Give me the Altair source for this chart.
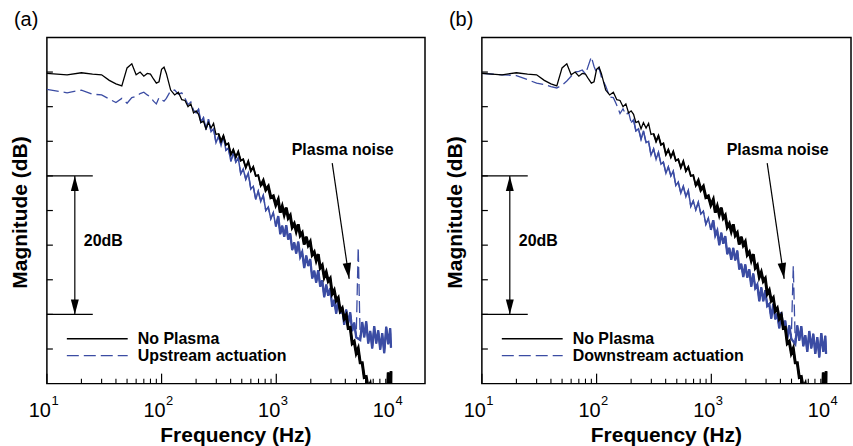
import altair as alt
import pandas as pd

FONT = "Liberation Sans"
BLUE = "#3b4ca3"

# ---------------- data (frequency in Hz, magnitude in dB) ----------------
FREQ_LOW = [10, 15, 20, 25, 30, 35, 40, 45, 50, 55, 60, 65, 70, 75, 80, 85, 90, 95, 100,
            105, 110, 120, 130, 140, 150, 160, 170, 180, 190, 200]
FREQ_MID = [210, 220, 232, 244, 256, 270, 284, 298, 314, 330, 346, 364, 382, 402, 422, 444,
            466, 490, 515, 542, 570, 600, 630, 662, 696, 732, 770, 810, 852, 896, 942, 990]
FREQ_HIGH = [1040, 1083, 1127, 1173, 1221, 1271, 1323, 1377, 1434, 1492, 1553, 1617, 1683,
             1752, 1824, 1899, 1976, 2057, 2142, 2229, 2320, 2416, 2515, 2618, 2725, 2836,
             2952, 3073, 3199, 3330, 3467, 3609, 3757, 3910, 4071, 4237, 4411, 4592, 4780,
             4976, 5180, 5392, 5613, 5843, 6083, 6332, 6592, 6862, 7143, 7436, 7741, 8058,
             8388, 8732, 9090, 9463, 9850, 10000]
PLASMA_PEAK_HZ = 5180

NOPLASMA_LOW = [-5.2, -5.4, -5.1, -5.3, -5.4, -6.2, -6.7, -7.0, -4.4, -3.8, -5.4, -5.0, -5.6,
                -5.2, -5.3, -6.0, -6.6, -6.4, -4.6, -4.3, -5.2, -7.6, -8.3, -7.9, -9.0, -9.1,
                -10.0, -9.6, -10.9, -10.6]
NOPLASMA_MID = [-11.1, -12.3, -12.1, -13.2, -12.3, -13.1, -12.4, -14.0, -13.9, -15.0,
                -14.2, -15.5, -15.3, -16.9, -16.2, -17.3, -16.5, -17.8, -17.6, -18.8,
                -17.9, -19.3, -18.7, -20.0, -19.9, -21.4, -20.7, -22.0, -21.5, -23.1,
                -22.9, -24.2]
NOPLASMA_HIGH = [-23.4, -25.3, -24.4, -25.6, -24.6, -26.1, -25.7, -27.4, -26.9, -28.0,
                 -27.0, -28.6, -28.2, -29.9, -28.8, -30.0, -29.5, -31.4, -31.0, -32.2,
                 -31.3, -33.3, -32.9, -34.6, -33.9, -35.2, -34.8, -37.0, -36.5, -38.0,
                 -37.6, -39.5, -39.1, -40.6, -40.1, -42.0, -41.9, -44.2, -43.9, -45.6,
                 -44.9, -47.0, -47.0, -49.1, -49.0, -50.6, -50.0, -51.9, -52.0, -54.1,
                 -53.4, -55.3, -55.3, -57.1, -56.7, -48.4, -58.6, -48.2]

UPSTREAM_LOW = [-7.5, -8.0, -7.6, -8.2, -8.3, -8.9, -9.4, -8.8, -9.5, -8.7, -8.5, -8.1, -7.9,
                -8.3, -8.6, -9.2, -9.6, -8.7, -9.0, -9.2, -8.8, -7.7, -7.6, -8.2, -8.0, -8.8,
                -9.7, -9.3, -10.5, -10.9]
UPSTREAM_MID = [-10.4, -12.2, -11.6, -13.3, -11.8, -13.6, -13.2, -15.2, -14.3, -15.6,
                -14.3, -16.3, -16.0, -17.9, -16.7, -18.0, -17.4, -19.7, -19.0, -20.5,
                -19.6, -21.9, -21.5, -23.4, -22.2, -23.7, -22.8, -25.0, -24.5, -26.2,
                -25.3, -27.3]
UPSTREAM_HIGH = [-25.8, -28.4, -27.2, -28.8, -27.1, -29.2, -28.3, -30.7, -29.6, -31.2,
                 -29.5, -31.7, -31.0, -33.3, -31.5, -33.0, -32.0, -34.8, -33.7, -35.4,
                 -33.6, -36.0, -35.1, -37.5, -35.7, -37.3, -36.2, -38.9, -37.9, -39.9,
                 -37.9, -39.9, -39.0, -41.5, -39.3, -41.3, -39.7, -42.4, -41.2, -43.3,
                 -30.3, -43.7, -41.1, -43.3, -41.0, -44.2, -42.4, -44.9, -41.7, -44.2,
                 -42.3, -45.1, -42.7, -45.6, -41.8, -44.3, -42.0, -44.8]

DOWNSTREAM_LOW = [-5.2, -5.4, -5.5, -6.1, -6.6, -6.8, -7.1, -7.3, -6.9, -6.3, -5.6, -5.0, -4.9,
                  -4.7, -5.3, -4.0, -2.8, -4.2, -5.1, -4.4, -5.7, -7.0, -8.6, -8.7, -9.8,
                  -11.0, -10.3, -11.2, -10.8, -12.3]
DOWNSTREAM_MID = [-11.9, -13.5, -13.2, -14.7, -13.5, -15.2, -15.0, -17.0, -16.1, -17.6,
                  -16.6, -18.3, -18.0, -19.6, -18.7, -20.0, -19.3, -21.4, -20.9, -22.5,
                  -21.5, -23.0, -22.1, -24.4, -23.6, -24.9, -23.8, -25.5, -25.1, -27.0,
                  -26.1, -27.8]
DOWNSTREAM_HIGH = [-26.4, -28.6, -27.9, -30.0, -28.2, -29.8, -28.7, -31.3, -30.4, -32.1,
                   -30.4, -32.2, -30.8, -33.5, -32.7, -34.6, -32.8, -34.7, -33.5, -36.0,
                   -34.1, -36.2, -35.7, -38.1, -36.1, -38.1, -36.5, -38.8, -38.5, -40.6,
                   -38.5, -40.7, -39.9, -42.0, -39.7, -41.8, -40.9, -43.5, -41.6, -43.5,
                   -33.0, -44.3, -41.6, -43.8, -41.7, -44.6, -43.0, -45.4, -42.4, -44.9,
                   -42.8, -45.7, -43.3, -46.2, -42.7, -45.4, -43.1, -45.7]

FREQ = FREQ_LOW + FREQ_MID + FREQ_HIGH
NOPLASMA = NOPLASMA_LOW + NOPLASMA_MID + NOPLASMA_HIGH
UPSTREAM = UPSTREAM_LOW + UPSTREAM_MID + UPSTREAM_HIGH
DOWNSTREAM = DOWNSTREAM_LOW + DOWNSTREAM_MID + DOWNSTREAM_HIGH

X_MAJOR = [10, 100, 1000, 10000]
X_EXP = ["1", "2", "3", "4"]
X_MINOR = [20, 30, 40, 50, 60, 70, 80, 90, 200, 300, 400, 500, 600, 700, 800, 900,
           2000, 3000, 4000, 5000, 6000, 7000, 8000, 9000]
Y_TICKS = [-45, -40, -35, -30, -25, -20, -15, -10, -5]
Y_DOMAIN = [-50, 0]
BRACKET = [-20, -40]

H = 347
UP = "M0,0L0.53,2L-0.53,2Z"
DOWN = "M0,0L0.53,-2L-0.53,-2Z"


def panel(tag, blue_vals, blue_label, xmax, w, anchor_x, anchor_top, anchor_bottom):
    xs = alt.Scale(type="log", domain=[10, xmax], nice=False)
    ys = alt.Scale(domain=Y_DOMAIN, nice=False, zero=False)

    def X():
        return alt.X("f:Q", scale=xs, axis=None)

    def Y():
        return alt.Y("db:Q", scale=ys, axis=None)

    one = pd.DataFrame({"k": [0]})
    df_black = pd.DataFrame({"f": FREQ, "db": NOPLASMA})
    df_blue = pd.DataFrame({"f": FREQ, "db": blue_vals})

    blue = alt.Chart(df_blue).mark_line(color=BLUE, strokeWidth=1.3, strokeDash=[12, 5],
                                        clip=True).encode(x=X(), y=Y())
    blue_mid = alt.Chart(df_blue).transform_filter(alt.datum.f >= 200).transform_filter(
        alt.datum.f != PLASMA_PEAK_HZ).mark_line(
        color=BLUE, strokeWidth=1.5, clip=True).encode(x=X(), y=Y())
    blue_hi = alt.Chart(df_blue).transform_filter(alt.datum.f >= 990).transform_filter(
        alt.datum.f != PLASMA_PEAK_HZ).mark_line(
        color=BLUE, strokeWidth=2.3, clip=True).encode(x=X(), y=Y())
    black = alt.Chart(df_black).mark_line(color="black", strokeWidth=1.3,
                                          clip=True).encode(x=X(), y=Y())
    black_mid = alt.Chart(df_black).transform_filter(alt.datum.f >= 300).mark_line(
        color="black", strokeWidth=1.9, clip=True).encode(x=X(), y=Y())
    black_hi = alt.Chart(df_black).transform_filter(alt.datum.f >= 700).mark_line(
        color="black", strokeWidth=3.0, clip=True).encode(x=X(), y=Y())

    xmaj = alt.Chart(pd.DataFrame({"f": X_MAJOR})).mark_rule(color="black", strokeWidth=1.2).encode(
        x=X(), y=alt.value(H), y2=alt.value(H - 10))
    xmin = alt.Chart(pd.DataFrame({"f": X_MINOR})).mark_rule(color="black", strokeWidth=1.1).encode(
        x=X(), y=alt.value(H), y2=alt.value(H - 5))
    ytk = alt.Chart(pd.DataFrame({"db": Y_TICKS})).mark_rule(color="black", strokeWidth=1.2).encode(
        y=Y(), x=alt.value(0), x2=alt.value(6))

    lab_df = pd.DataFrame({"f": X_MAJOR, "e": X_EXP})
    lab10 = alt.Chart(lab_df).mark_text(text="10", align="right", dx=4, baseline="alphabetic",
                                        fontSize=20, font=FONT, color="black").encode(
        x=X(), y=alt.value(H + 33))
    labe = alt.Chart(lab_df).mark_text(align="left", dx=4.5, baseline="alphabetic",
                                       fontSize=13, font=FONT, color="black").encode(
        x=X(), y=alt.value(H + 21), text="e:N")

    xtitle = alt.Chart(one).mark_text(text="Frequency (Hz)", align="center", baseline="alphabetic",
                                      fontSize=21, fontWeight="bold", font=FONT, color="black").encode(
        x=alt.value(w / 2), y=alt.value(406))
    ytitle = alt.Chart(one).mark_text(text="Magnitude (dB)", align="center", baseline="middle",
                                      angle=270, fontSize=21, fontWeight="bold", font=FONT,
                                      color="black").encode(
        x=alt.value(-26), y=alt.value(H / 2 + 2))
    ptag = alt.Chart(one).mark_text(text=tag, align="left", baseline="alphabetic", fontSize=20,
                                    font=FONT, color="black").encode(
        x=alt.value(-33), y=alt.value(-11))

    # 20 dB scale bar
    br = alt.Chart(pd.DataFrame({"db": BRACKET})).mark_rule(color="black", strokeWidth=1.2).encode(
        y=Y(), x=alt.value(0), x2=alt.value(46))
    brv = alt.Chart(pd.DataFrame({"db": [BRACKET[0]], "db2": [BRACKET[1]]})).mark_rule(
        color="black", strokeWidth=1.2).encode(x=alt.value(28), y=Y(), y2="db2:Q")
    heads = alt.Chart(pd.DataFrame({"db": BRACKET, "dir": ["up", "down"]})).mark_point(
        filled=True, color="black", opacity=1, size=225, strokeWidth=0).encode(
        x=alt.value(28), y=Y(),
        shape=alt.Shape("dir:N", scale=alt.Scale(domain=["up", "down"], range=[UP, DOWN]),
                        legend=None))
    t20 = alt.Chart(one).mark_text(text="20dB", align="left", baseline="alphabetic", fontSize=16,
                                   fontWeight="bold", font=FONT, color="black").encode(
        x=alt.value(37), y=alt.value(209))

    # plasma noise annotation
    pn_line = alt.Chart(one).mark_rule(color="black", strokeWidth=1.2).encode(
        x=alt.value(286), y=alt.value(126), x2=alt.value(303), y2=alt.value(242))
    pn_head = alt.Chart(one).mark_point(shape=DOWN, angle=351.7, size=256, filled=True,
                                        color="black", opacity=1, strokeWidth=0).encode(
        x=alt.value(303), y=alt.value(242))
    pn_text = alt.Chart(one).mark_text(text="Plasma noise", align="center", baseline="alphabetic",
                                       fontSize=16, fontWeight="bold", font=FONT,
                                       color="black").encode(
        x=alt.value(296.5), y=alt.value(118))

    # legend
    lg1 = alt.Chart(one).mark_rule(color="black", strokeWidth=1.3).encode(
        x=alt.value(20), x2=alt.value(81), y=alt.value(302))
    lg2 = alt.Chart(one).mark_rule(color=BLUE, strokeWidth=1.3, strokeDash=[12, 5]).encode(
        x=alt.value(20), x2=alt.value(81), y=alt.value(319))
    lt1 = alt.Chart(one).mark_text(text="No Plasma", align="left", baseline="alphabetic",
                                   fontSize=16, fontWeight="bold", font=FONT, color="black").encode(
        x=alt.value(91), y=alt.value(307.5))
    lt2 = alt.Chart(one).mark_text(text=blue_label, align="left", baseline="alphabetic",
                                   fontSize=16, fontWeight="bold", font=FONT, color="black").encode(
        x=alt.value(91), y=alt.value(324.5))

    # invisible layout anchor fixing the canvas extent
    anchor = alt.Chart(one).mark_rule(opacity=0, strokeWidth=0.01).encode(
        x=alt.value(anchor_x), y=alt.value(anchor_top), y2=alt.value(anchor_bottom))

    return alt.layer(blue, blue_mid, blue_hi, black, black_mid, black_hi,
                     xmaj, xmin, ytk, lab10, labe, xtitle, ytitle, ptag,
                     br, brv, heads, t20, pn_line, pn_head, pn_text, lg1, lg2, lt1, lt2, anchor
                     ).properties(width=w, height=H)


pa = panel("(a)", UPSTREAM, "Upstream actuation", 19800, 379, -46, -36, H + 63)
pb = panel("(b)", DOWNSTREAM, "Downstream actuation", 16500, 370, 371, -36, H + 63)

chart = alt.hconcat(
    pa, pb, spacing=57, bounds="flush", padding=0,
    autosize=alt.AutoSizeParams(type="pad"),
).configure(background="white", view=alt.ViewConfig(stroke="black", strokeWidth=1.5))

chart.save("out.html", embed_options={"renderer": "svg", "actions": False})
